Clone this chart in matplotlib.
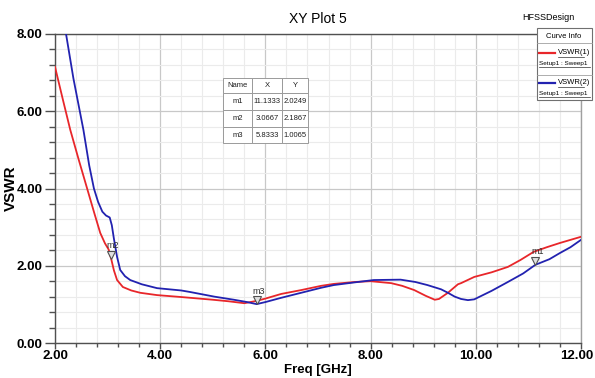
# -*- coding: utf-8 -*-
"""Chart: HFSS XY Plot 5 - VSWR vs frequency"""
import matplotlib
matplotlib.use('Agg')
import matplotlib.pyplot as plt
import matplotlib.transforms as mtransforms
from matplotlib.patches import Rectangle
from matplotlib.lines import Line2D
from matplotlib.ticker import MultipleLocator, FormatStrFormatter, FuncFormatter

# ── Data ──
freq_1 = [2.0, 2.15, 2.29, 2.45, 2.6, 2.75, 2.86, 2.95, 3.02, 3.0667, 3.12, 3.18,
          3.29, 3.45, 3.62, 3.94, 4.4, 4.57, 5.0, 5.3, 5.6, 5.83, 6.0, 6.3, 6.68,
          7.06, 7.3, 7.7, 8.0, 8.39, 8.6, 8.83, 9.05, 9.22, 9.3, 9.47, 9.66, 9.72,
          9.97, 10.3, 10.61, 10.85, 11.1, 11.35, 11.6, 11.8, 12.0]
vswr_1 = [7.15, 6.3, 5.52, 4.75, 4.05, 3.35, 2.85, 2.58, 2.42, 2.1867, 1.88, 1.63,
          1.45, 1.36, 1.30, 1.24, 1.19, 1.17, 1.12, 1.08, 1.03, 1.09, 1.15, 1.27, 1.37,
          1.48, 1.53, 1.58, 1.60, 1.55, 1.48, 1.37, 1.22, 1.12, 1.14, 1.30, 1.52, 1.55,
          1.71, 1.83, 1.97, 2.15, 2.36, 2.48, 2.59, 2.67, 2.75]

freq_2 = [2.15, 2.21, 2.35, 2.54, 2.65, 2.74, 2.82, 2.9, 2.97, 3.04, 3.08, 3.12,
          3.18, 3.24, 3.33, 3.43, 3.65, 3.94, 4.4, 4.57, 5.03, 5.4, 5.65, 5.8333,
          6.0, 6.3, 6.68, 7.06, 7.3, 7.7, 8.06, 8.57, 8.85, 9.08, 9.34, 9.47, 9.6,
          9.72, 9.85, 9.97, 10.3, 10.61, 10.9, 11.1333, 11.4, 11.6, 11.8, 12.0]
vswr_2 = [8.6, 8.0, 6.85, 5.52, 4.6, 4.0, 3.65, 3.4, 3.3, 3.25, 3.05, 2.7,
          2.23, 1.89, 1.73, 1.63, 1.52, 1.42, 1.36, 1.32, 1.2, 1.12, 1.06, 1.0065,
          1.06, 1.17, 1.30, 1.43, 1.50, 1.57, 1.63, 1.64, 1.58, 1.50, 1.39, 1.30, 1.20,
          1.14, 1.11, 1.13, 1.35, 1.58, 1.80, 2.0249, 2.17, 2.33, 2.48, 2.67]

marker_names = ['m1', 'm2', 'm3']
marker_x = [11.1333, 3.0667, 5.8333]
marker_y = [2.0249, 2.1867, 1.0065]

curve_names = ['VSWR(1)', 'VSWR(2)']
curve_setup = ['Setup1 : Sweep1', 'Setup1 : Sweep1']

X_MIN, X_MAX = 2, 12

# ── Style ──
RED = '#e8262a'
BLUE = '#2222b0'
plt.rcParams['font.family'] = ['Liberation Sans', 'DejaVu Sans']

W, H = 595, 378
fig = plt.figure(figsize=(W / 100, H / 100), dpi=100)
fig.patch.set_facecolor('white')


def fx(x):
    return x / W


def fy(y):
    return 1 - y / H


ax = fig.add_axes([fx(55), fy(343), fx(581) - fx(55), fy(34) - fy(343)])

ax.plot(freq_1, vswr_1, color=RED, lw=1.3, zorder=4)
ax.plot(freq_2, vswr_2, color=BLUE, lw=1.3, zorder=4)

ax.set_xlim(X_MIN, X_MAX)
ax.set_ylim(0, 8)
ax.xaxis.set_major_locator(MultipleLocator(2))
ax.xaxis.set_minor_locator(MultipleLocator(0.4))
ax.yaxis.set_major_locator(MultipleLocator(2))
ax.yaxis.set_minor_locator(MultipleLocator(0.4))
# last x label is drawn separately so it stays inside the figure
ax.xaxis.set_major_formatter(FuncFormatter(lambda v, _: '' if v >= X_MAX else f'{v:.2f}'))
ax.yaxis.set_major_formatter(FormatStrFormatter('%.2f'))
ax.grid(which='minor', color='#ebebeb', lw=0.8, zorder=0)
ax.grid(which='major', color='#c8c8c8', lw=0.9, zorder=0)
ax.set_axisbelow(True)

for s in ax.spines.values():
    s.set_color('#505050')
    s.set_linewidth(1.0)
ax.spines['right'].set_color('#a0a0a0')

ax.tick_params(axis='both', which='major', length=7, width=1, color='#505050',
               labelsize=9.5, pad=2)
ax.tick_params(axis='x', which='major', length=4, pad=1)
ax.tick_params(axis='both', which='minor', length=4, width=1, color='#505050')
ax.tick_params(axis='x', which='minor', length=3)
for lab in ax.get_xticklabels() + ax.get_yticklabels():
    lab.set_fontweight('bold')

last_tr = mtransforms.offset_copy(ax.get_xaxis_transform(), fig=fig, x=12, y=-7, units='dots')
ax.text(X_MAX, 0, f'{X_MAX:.2f}', transform=last_tr, fontsize=9.5, fontweight='bold',
        ha='right', va='top', clip_on=False)

ax.set_xlabel('Freq [GHz]', fontsize=9.5, fontweight='bold', va='center')
ax.xaxis.set_label_coords(0.5, (343 - 370) / 309)
ax.set_ylabel('VSWR', fontsize=11, fontweight='bold', va='center')
ax.yaxis.set_label_coords((11 - 55) / 526, 0.5)
ax.set_title('XY Plot 5', fontsize=10, pad=8)
fig.text(fx(548), fy(18), 'HFSSDesign', fontsize=6.5, ha='center', va='center')

# ── Markers ──
up = mtransforms.offset_copy(ax.transData, fig=fig, x=0, y=4, units='dots')
lab_off = mtransforms.offset_copy(ax.transData, fig=fig, x=2, y=13, units='dots')
for name, mx, my in zip(marker_names, marker_x, marker_y):
    ax.plot(mx, my, marker='v', ms=6, mfc='#e0e0e0', mec='#505050', mew=0.8,
            transform=up, zorder=6)
    ax.text(mx, my, name, transform=lab_off, fontsize=6.5, ha='center',
            va='center', color='#303030', zorder=6)

# ── Marker table ──
col_edges = [223, 252, 282, 308]
row_edges = [78, 93, 110, 127, 143]
header = ['Name', 'X', 'Y']
rows = [header] + [[n, f'{x:.4f}', f'{y:.4f}'] for n, x, y in zip(marker_names, marker_x, marker_y)]
for r, row in enumerate(rows):
    for c, val in enumerate(row):
        x0, x1 = col_edges[c], col_edges[c + 1]
        y0, y1 = row_edges[r], row_edges[r + 1]
        fig.patches.append(Rectangle((fx(x0), fy(y1)), fx(x1) - fx(x0), fy(y0) - fy(y1),
                                     transform=fig.transFigure, facecolor='white',
                                     edgecolor='#9a9a9a', lw=0.7, zorder=10))
        fig.text(fx((x0 + x1) / 2), fy((y0 + y1) / 2), val, fontsize=5.5,
                 ha='center', va='center', zorder=11, color='#202020')

# ── Curve Info legend ──
fig.patches.append(Rectangle((fx(537), fy(100)), fx(592) - fx(537), fy(28) - fy(100),
                             transform=fig.transFigure, facecolor='white',
                             edgecolor='#707070', lw=0.8, zorder=10))
for yl in [43, 75]:
    fig.lines.append(Line2D([fx(537), fx(592)], [fy(yl), fy(yl)], transform=fig.transFigure,
                            color='#a0a0a0', lw=0.6, zorder=11))
fig.text(fx(564), fy(36), 'Curve Info', fontsize=5.5, ha='center', va='center', zorder=12)
for i, (nm, st, col) in enumerate(zip(curve_names, curve_setup, [RED, BLUE])):
    yb = 53 + i * 30
    fig.lines.append(Line2D([fx(539), fx(555)], [fy(yb), fy(yb)], transform=fig.transFigure,
                            color=col, lw=1.6, zorder=12))
    fig.text(fx(558), fy(yb), nm, fontsize=5.5, ha='left', va='center', zorder=12)
    fig.lines.append(Line2D([fx(558), fx(584)], [fy(yb + 4), fy(yb + 4)],
                            transform=fig.transFigure, color='#303030', lw=0.5, zorder=12))
    fig.text(fx(539), fy(yb + 10), st, fontsize=4.6, ha='left', va='center', zorder=12)
    fig.lines.append(Line2D([fx(539), fx(590)], [fy(yb + 14), fy(yb + 14)],
                            transform=fig.transFigure, color='#303030', lw=0.5, zorder=12))

fig.savefig('out.png', dpi=100, facecolor='white')
